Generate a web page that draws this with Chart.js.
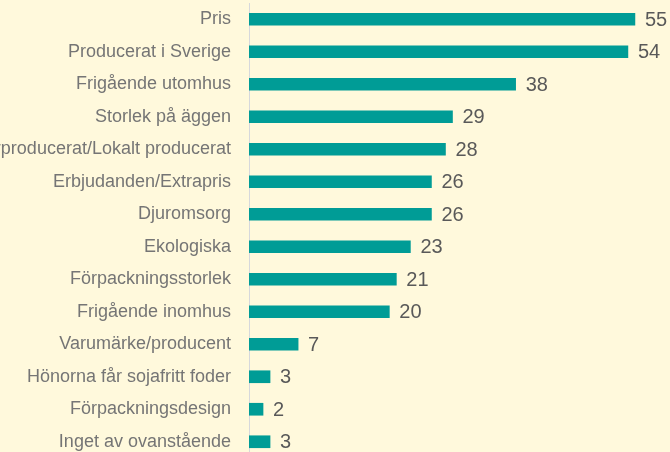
<!DOCTYPE html>
<html>
<head>
<meta charset="utf-8">
<script src="https://cdn.jsdelivr.net/npm/chart.js@4/dist/chart.umd.min.js"></script>
<style>
html,body{margin:0;padding:0;background:#FFF9DC;overflow:hidden;width:670px;height:452px;}
#wrap{position:absolute;left:0;top:0;width:670px;height:460px;}
</style>
</head>
<body>
<div id="wrap"><canvas id="c" width="670" height="460"></canvas></div>
<script>
const categories = [
  "Pris",
  "Producerat i Sverige",
  "Frigående utomhus",
  "Storlek på äggen",
  "Närproducerat/Lokalt producerat",
  "Erbjudanden/Extrapris",
  "Djuromsorg",
  "Ekologiska",
  "Förpackningsstorlek",
  "Frigående inomhus",
  "Varumärke/producent",
  "Hönorna får sojafritt foder",
  "Förpackningsdesign",
  "Inget av ovanstående"
];
const values = [55, 54, 38, 29, 28, 26, 26, 23, 21, 20, 7, 3, 2, 3];
const axisMax = 60;

const valueLabels = {
  id: 'valueLabels',
  afterDatasetsDraw(chart) {
    const ctx = chart.ctx;
    const meta = chart.getDatasetMeta(0);
    ctx.save();
    ctx.font = '20px "Liberation Sans", Arial, sans-serif';
    ctx.fillStyle = '#595959';
    ctx.textAlign = 'left';
    ctx.textBaseline = 'middle';
    meta.data.forEach((el, i) => {
      ctx.fillText(String(chart.data.datasets[0].data[i]), el.x + 10, el.y + 1);
    });
    ctx.restore();
  }
};

new Chart(document.getElementById('c'), {
  type: 'bar',
  data: {
    labels: categories,
    datasets: [{
      data: values,
      backgroundColor: '#009C96',
      borderWidth: 0,
      barThickness: 12
    }]
  },
  options: {
    indexAxis: 'y',
    responsive: false,
    devicePixelRatio: 1,
    animation: false,
    layout: { padding: { top: 3, bottom: 2, left: 0, right: 0 } },
    plugins: { legend: { display: false }, tooltip: { enabled: false } },
    scales: {
      x: { display: false, min: 0, max: axisMax },
      y: {
        afterFit(scale) { scale.width = 249; scale.paddingTop = 0; scale.paddingBottom = 0; },
        grid: { display: false, drawTicks: false },
        border: { display: true, color: '#D6D8DC', width: 1 },
        ticks: {
          padding: 18,
          color: '#757575',
          font: { family: '"Liberation Sans", Arial, sans-serif', size: 18 }
        }
      }
    }
  },
  plugins: [valueLabels]
});
</script>
</body>
</html>
